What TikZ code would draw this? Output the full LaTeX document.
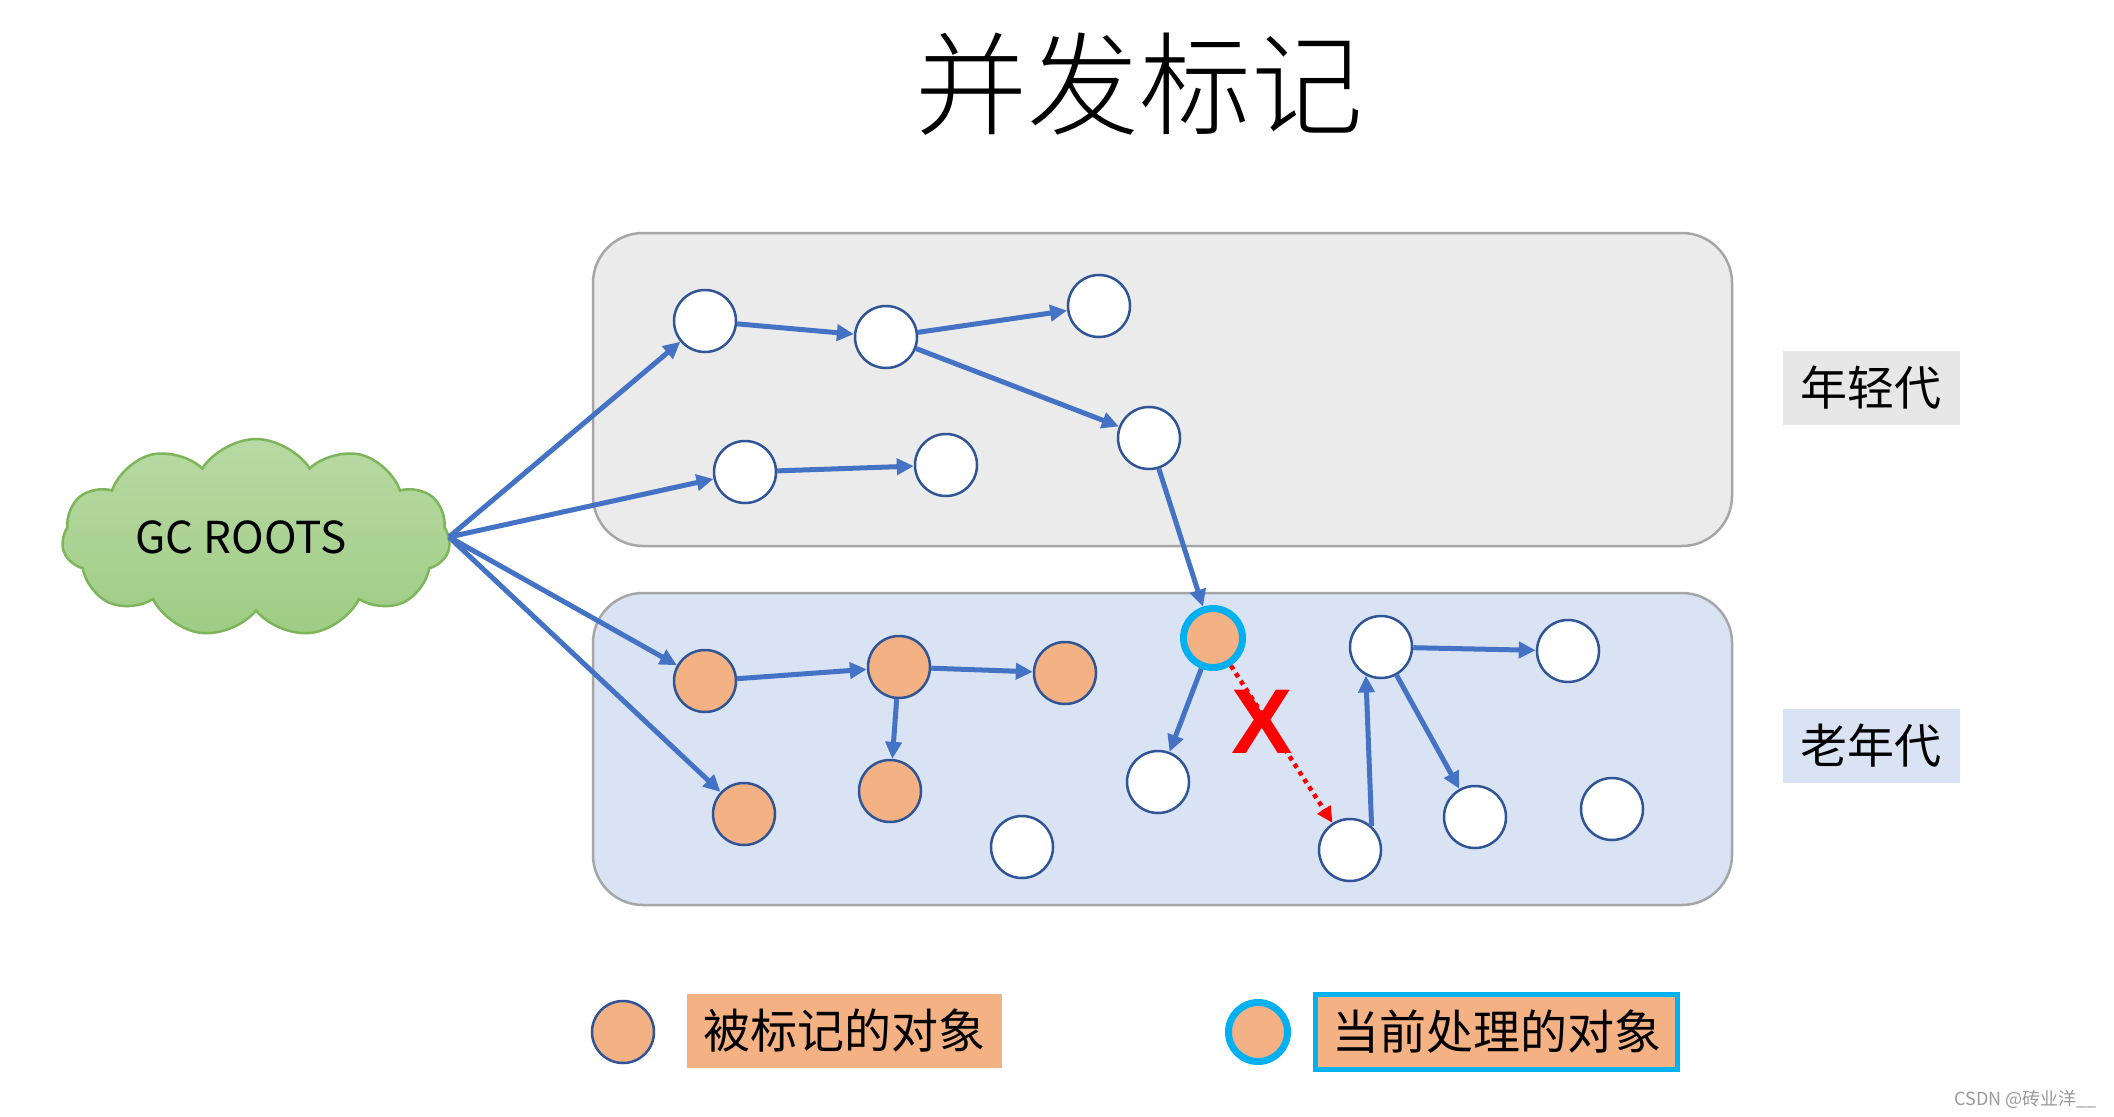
\documentclass[tikz,border=0pt]{standalone}
\usepackage{fontspec}
\setmainfont{Noto Sans CJK SC}
\newfontfamily\titlefont{Noto Sans CJK SC Light}
\newfontfamily\xfont{Liberation Sans}
\usetikzlibrary{shapes.symbols,arrows.meta}
\definecolor{ygray}{HTML}{EBEBEB}
\definecolor{oblue}{HTML}{DAE3F3}
\definecolor{labgray}{HTML}{E7E7E7}
\definecolor{bordergray}{HTML}{A6A6A6}
\definecolor{nodeblue}{HTML}{2F5597}
\definecolor{arrowblue}{HTML}{4472C4}
\definecolor{objorange}{HTML}{F4B183}
\definecolor{curcyan}{HTML}{00B0F0}
\definecolor{cloudtop}{HTML}{B8DAA4}
\definecolor{cloudbot}{HTML}{9FCC84}
\definecolor{cloudedge}{HTML}{7CB55A}
\definecolor{wmgray}{HTML}{9A9A9A}
\tikzset{
  obj/.style={circle, draw=nodeblue, line width=2.5pt, fill=white, minimum size=62pt, inner sep=0pt},
  marked/.style={obj, fill=objorange},
  curobj/.style={circle, draw=curcyan, line width=7pt, fill=objorange, minimum size=59pt, inner sep=0pt},
  refarrow/.style={draw=arrowblue, line width=5pt, -{Triangle[length=17pt,width=16pt]}},
  lostarrow/.style={draw=red, line width=4.5pt, dash pattern=on 4.5pt off 4.5pt, -{Triangle[length=16pt,width=15pt]}},
  region/.style={draw=bordergray, line width=2.5pt, rounded corners=50pt, inner sep=0pt},
  genlabel/.style={minimum width=177pt, minimum height=74pt, inner sep=0pt, font=\fontsize{47pt}{47pt}\selectfont},
  legendbox/.style={fill=objorange, inner sep=0pt, minimum height=74pt, font=\fontsize{47pt}{47pt}\selectfont},
}
\begin{document}
\begin{tikzpicture}[x=1pt, y=-1pt]
\useasboundingbox[fill=white] (0,0) rectangle (2114,1116);

% title
\node (title) at (1139,84) {\titlefont\fontsize{112pt}{112pt}\selectfont 并发标记};

% regions
\node[region, fill=ygray, minimum width=1139pt, minimum height=313pt] (young) at (1162.5,389.5) {};
\node[region, fill=oblue, minimum width=1139pt, minimum height=312pt] (old) at (1162.5,749) {};
\node[genlabel, fill=labgray] (younglab) at (1871,388) {年轻代};
\node[genlabel, fill=oblue] (oldlab) at (1871,746) {老年代};

% GC roots cloud
\node[cloud, cloud puffs=11, cloud puff arc=115, aspect=2.1,
      draw=cloudedge, line width=2.5pt, top color=cloudtop, bottom color=cloudbot,
      minimum width=388pt, minimum height=198pt, inner sep=0pt] (gc) at (256,538) {};
\node (gctext) at (241,537) {\fontsize{44pt}{44pt}\selectfont GC ROOTS};
\coordinate (gcout) at (449,537);

% young objects
\node[obj] (y1) at (705,321) {};
\node[obj] (y2) at (886,337) {};
\node[obj] (y3) at (1099,306) {};
\node[obj] (y4) at (1149,438) {};
\node[obj] (y5) at (745,472) {};
\node[obj] (y6) at (946,465) {};

% old objects
\node[marked] (o1) at (705,681) {};
\node[marked] (o2) at (899,667) {};
\node[marked] (o3) at (1065,673) {};
\node[marked] (o4) at (744,814) {};
\node[marked] (o5) at (890,791) {};
\node[obj] (w1) at (1022,847) {};
\node[curobj] (cur) at (1213,638) {};
\node[obj] (w2) at (1158,782) {};
\node[obj] (w3) at (1350,850) {};
\node[obj] (w4) at (1381,647) {};
\node[obj] (w5) at (1568,651) {};
\node[obj] (w6) at (1475,817) {};
\node[obj] (w7) at (1612,809) {};

% references
\draw[refarrow] (gcout) -- (y1);
\draw[refarrow] (gcout) -- (y5);
\draw[refarrow] (gcout) -- (o1);
\draw[refarrow] (gcout) -- (o4);
\draw[refarrow] (y1) -- (y2);
\draw[refarrow] (y2) -- (y3);
\draw[refarrow] (y2) -- (y4);
\draw[refarrow] (y5) -- (y6);
\draw[refarrow] (y4) -- (cur);
\draw[refarrow] (o1) -- (o2);
\draw[refarrow] (o2) -- (o3);
\draw[refarrow] (o2) -- (o5);
\draw[refarrow] (cur) -- (w2);
\draw[lostarrow] (cur) -- (w3);
\draw[refarrow] (w3.48) -- (w4.242);
\draw[refarrow] (w4) -- (w5);
\draw[refarrow] (w4) -- (w6);

% red cross
\node[text=red, inner sep=0pt] (cross) at (1262,722) {\xfont\bfseries\fontsize{92pt}{92pt}\selectfont X};

% legend
\node[marked] (legmarked) at (623,1032) {};
\node[legendbox, minimum width=315pt] (legmarkedtext) at (844.5,1031) {被标记的对象};
\node[curobj] (legcur) at (1258,1032) {};
\node[legendbox, draw=curcyan, line width=5pt, minimum width=362pt, minimum height=75pt] (legcurtext) at (1496.5,1032) {当前处理的对象};

% watermark
\node[anchor=east, text=wmgray, inner sep=0pt] (wm) at (2097,1099) {\fontsize{18pt}{18pt}\selectfont CSDN @砖业洋\_\_};
\end{tikzpicture}
\end{document}
